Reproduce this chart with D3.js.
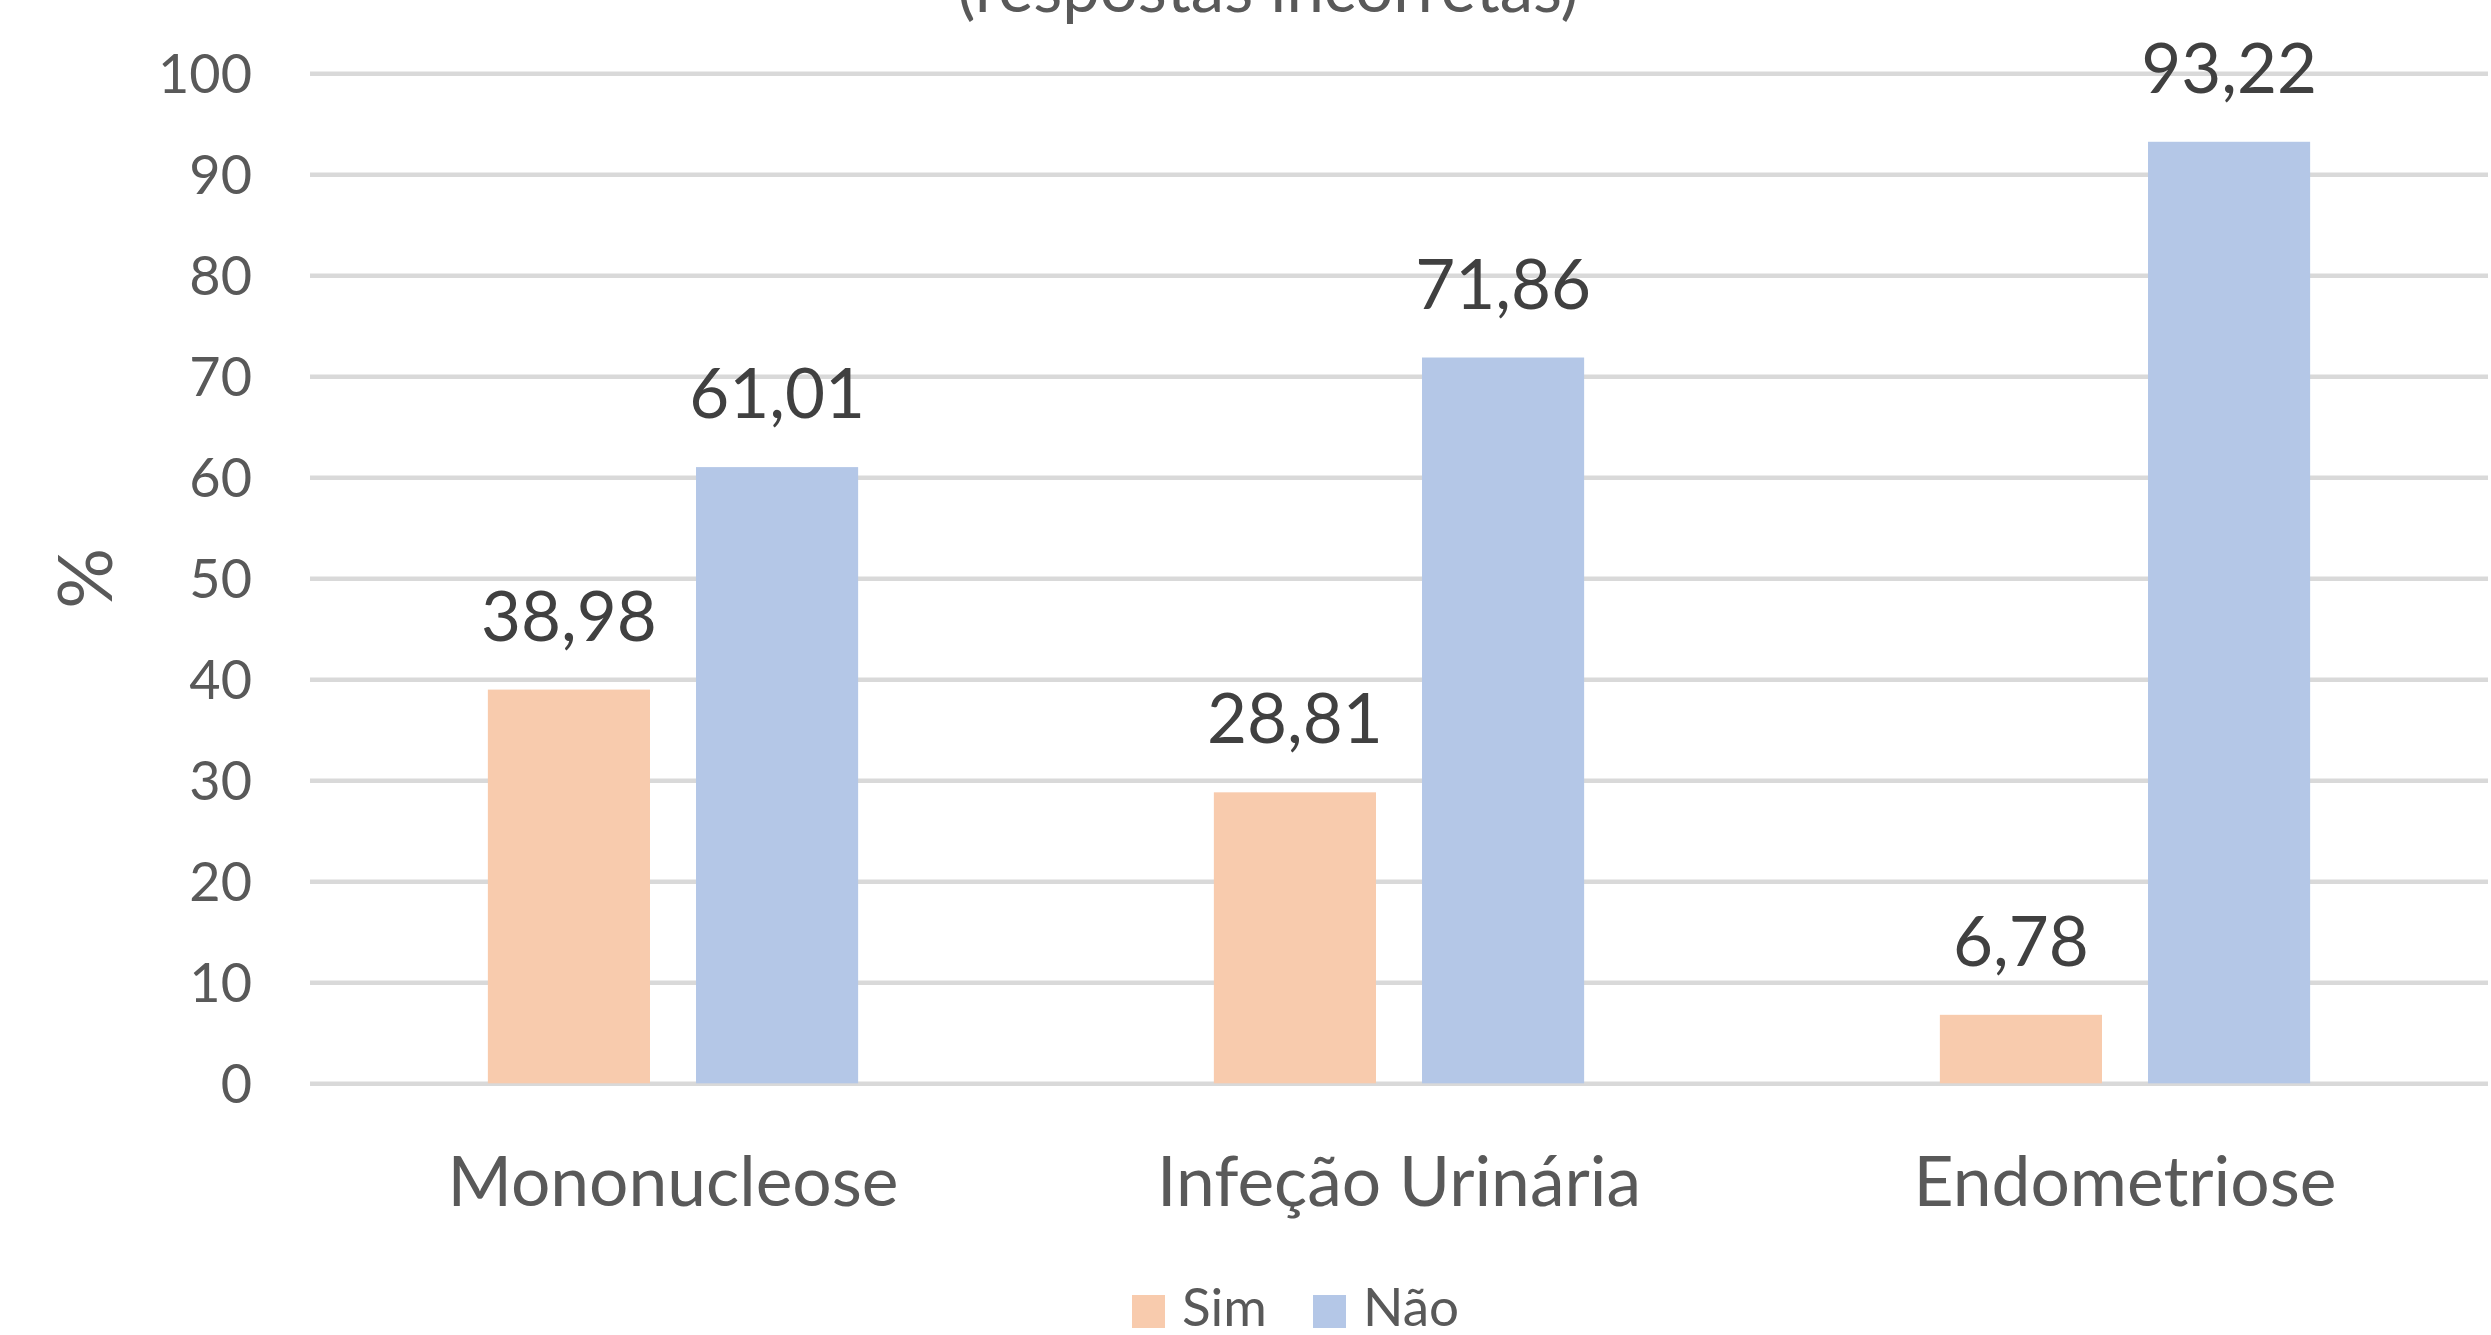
<!DOCTYPE html>
<html>
<head>
<meta charset="utf-8">
<script src="https://cdn.jsdelivr.net/npm/d3@7"></script>
<style>
  html, body { margin: 0; padding: 0; background: #fff; }
  svg { display: block; font-family: Lato, "Open Sans", sans-serif; }
</style>
</head>
<body>
<div id="chart"></div>
<script>
// Data
const categories = ['Mononucleose', 'Infeção Urinária', 'Endometriose'];
const seriesNames = ['Sim', 'Não'];
const simValues = [38.98, 28.81, 6.78];
const naoValues = [61.01, 71.86, 93.22];
const yTicks = [0, 10, 20, 30, 40, 50, 60, 70, 80, 90, 100];
const colors = ['#F8CBAD', '#B4C7E7'];

const width = 2491, height = 1335;
const plot = { left: 310, right: 2488, top: 73.3, bottom: 1083.3 };

const rows = categories.map((c, i) => ({ cat: c, values: [simValues[i], naoValues[i]] }));

const svg = d3.select('#chart').append('svg')
  .attr('width', width)
  .attr('height', height)
  .attr('viewBox', [0, 0, width, height]);

const y = d3.scaleLinear().domain([0, 100]).range([plot.bottom, plot.top]);

const x0 = d3.scaleBand()
  .domain(categories)
  .range([plot.left, plot.right])
  .paddingInner(0.49)
  .paddingOuter(0.245);

const x1 = d3.scaleBand()
  .domain(seriesNames)
  .range([0, x0.bandwidth()])
  .paddingInner(0.221);

// Gridlines + y tick labels
const yAxis = svg.append('g')
  .attr('transform', `translate(${plot.left},0)`)
  .call(d3.axisLeft(y).tickValues(yTicks).tickSizeInner(-(plot.right - plot.left)).tickSizeOuter(0).tickPadding(58));
yAxis.select('.domain').remove();
yAxis.selectAll('.tick line').attr('stroke', '#D9D9D9').attr('stroke-width', 4.5);
yAxis.selectAll('.tick text')
  .attr('fill', '#595959')
  .attr('font-size', '54px')
  .attr('font-family', 'Lato, sans-serif')
  .attr('dy', '0.36em');

// Bars
const groups = svg.append('g')
  .selectAll('g')
  .data(rows)
  .join('g')
  .attr('transform', d => `translate(${x0(d.cat)},0)`);

groups.selectAll('rect')
  .data(d => d.values.map((v, j) => ({ key: seriesNames[j], value: v, idx: j })))
  .join('rect')
  .attr('x', d => x1(d.key))
  .attr('y', d => y(d.value))
  .attr('width', x1.bandwidth())
  .attr('height', d => y(0) - y(d.value))
  .attr('fill', d => colors[d.idx]);

// Data labels
groups.selectAll('text.val')
  .data(d => d.values.map((v, j) => ({ key: seriesNames[j], value: v })))
  .join('text')
  .attr('class', 'val')
  .attr('x', d => x1(d.key) + x1.bandwidth() / 2)
  .attr('y', d => y(d.value) - 49)
  .attr('text-anchor', 'middle')
  .attr('fill', '#404040')
  .attr('font-size', '69px')
  .text(d => d.value.toFixed(2).replace('.', ','));

// Category axis
const xAxis = svg.append('g')
  .attr('transform', `translate(0,${plot.bottom})`)
  .call(d3.axisBottom(x0).tickSize(0));
xAxis.select('.domain').remove();
xAxis.selectAll('.tick text')
  .attr('y', 123)
  .attr('dy', null)
  .attr('fill', '#595959')
  .attr('font-size', '69.5px')
  .attr('font-family', 'Lato, sans-serif');

// Y axis title
svg.append('text')
  .attr('transform', `translate(112,${(plot.top + plot.bottom) / 2}) rotate(-90)`)
  .attr('text-anchor', 'middle')
  .attr('fill', '#595959')
  .attr('font-size', '76px')
  .text('%');

// Chart title (cut at the top)
svg.append('text')
  .attr('x', 1268)
  .attr('y', 12)
  .attr('text-anchor', 'middle')
  .attr('fill', '#595959')
  .attr('font-size', '67px')
  .text('(respostas incorretas)');

// Legend
const legend = svg.append('g').attr('transform', 'translate(1132,1295)');
const legendX = [0, 181];
const li = legend.selectAll('g')
  .data(seriesNames)
  .join('g')
  .attr('transform', (d, i) => `translate(${legendX[i]},0)`);
li.append('rect')
  .attr('width', 33)
  .attr('height', 33)
  .attr('fill', (d, i) => colors[i]);
li.append('text')
  .attr('x', 50)
  .attr('y', 31)
  .attr('fill', '#595959')
  .attr('font-size', '53px')
  .text(d => d);
</script>
</body>
</html>
